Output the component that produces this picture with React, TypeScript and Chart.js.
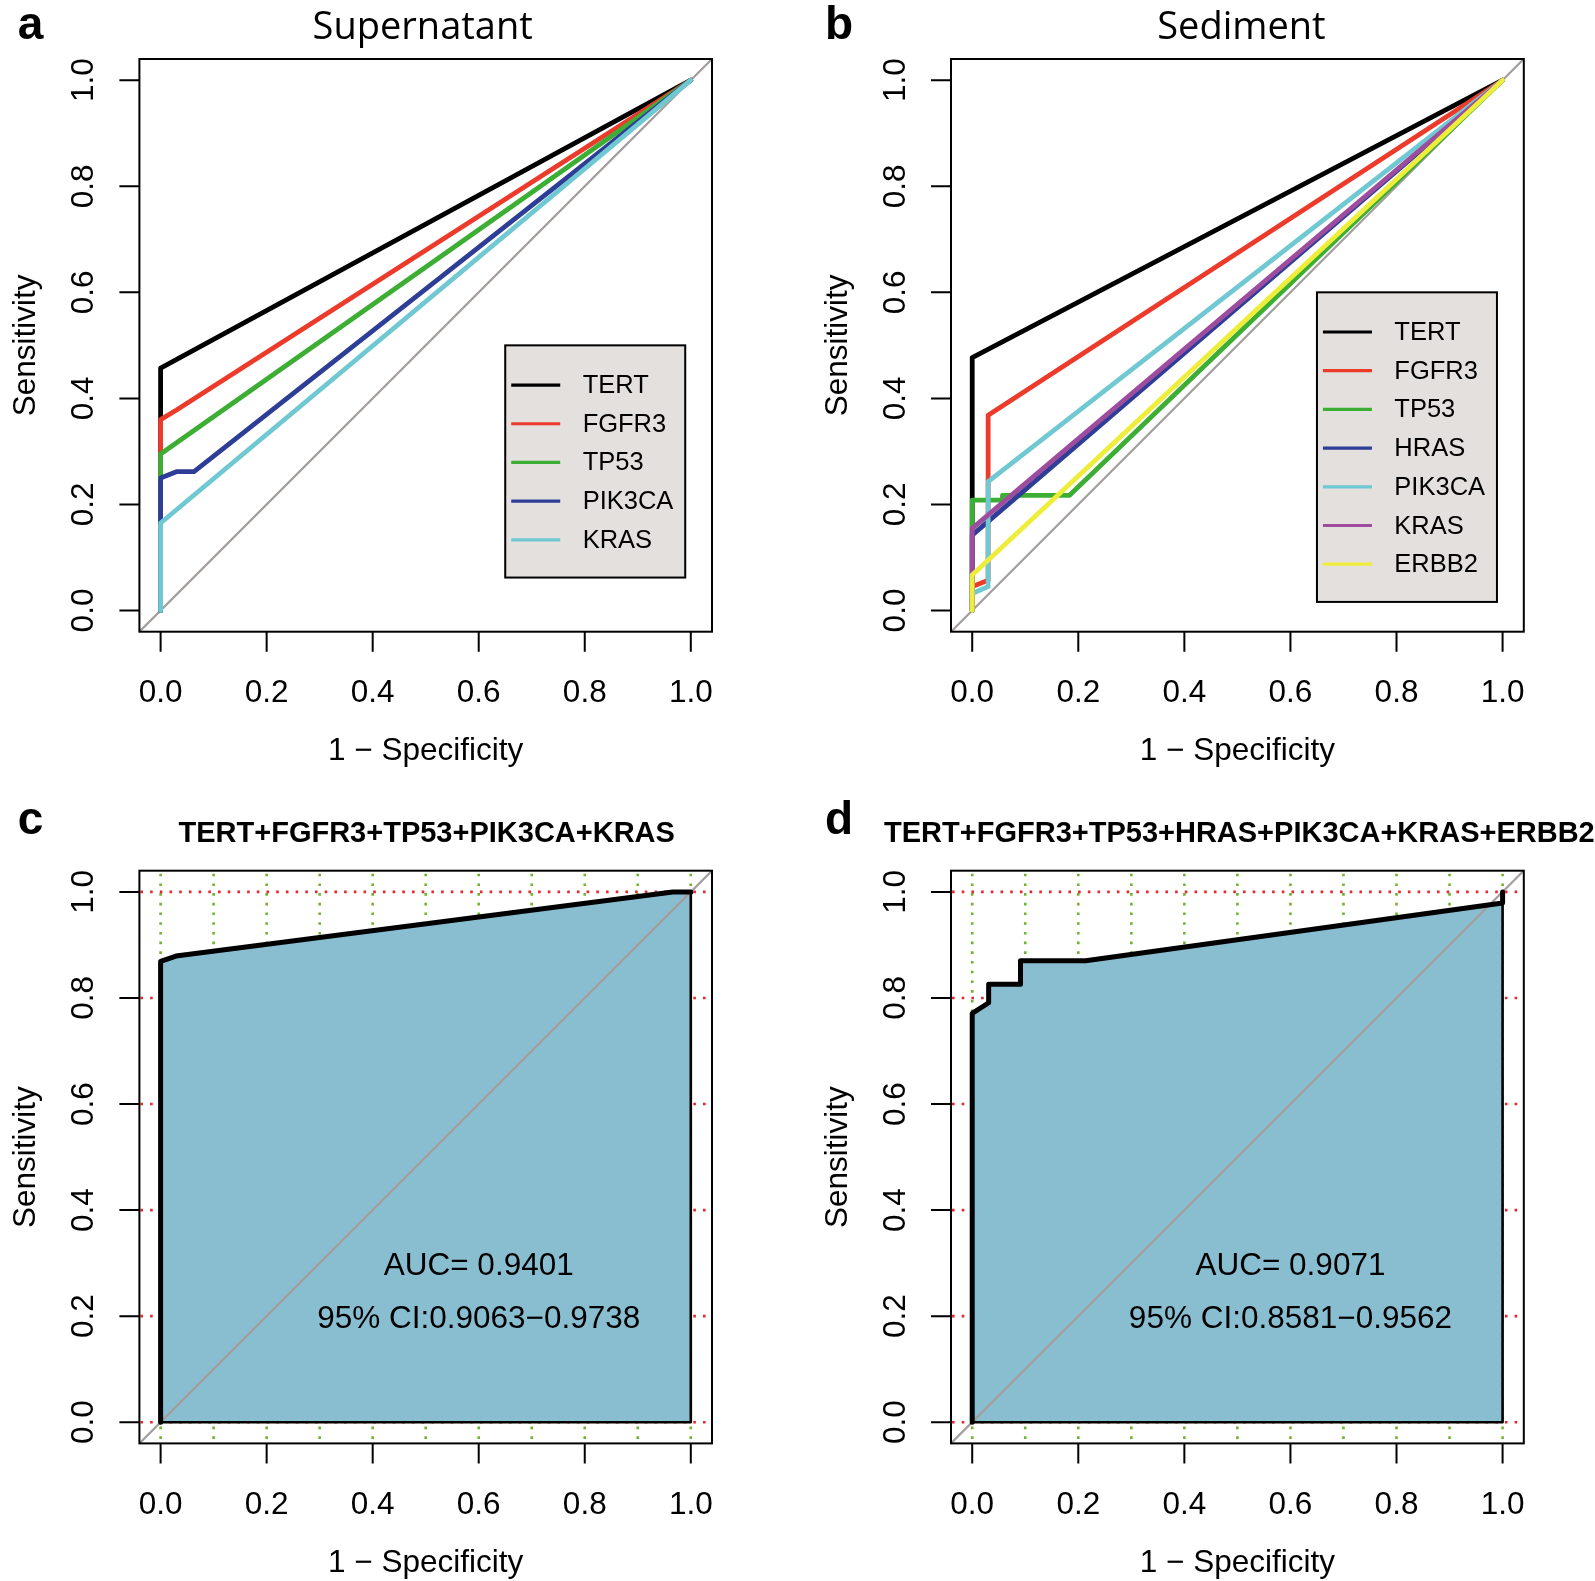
import { useEffect, useRef } from "react";
import { Chart, registerables } from "chart.js";

Chart.register(...registerables);

// ---------- shared axis values ----------
const AXIS_MIN = -0.04;
const AXIS_MAX = 1.04;
const tickValues = [0, 0.2, 0.4, 0.6, 0.8, 1.0];
const tickLabels = ["0.0", "0.2", "0.4", "0.6", "0.8", "1.0"];
const gridXValues = [0, 0.1, 0.2, 0.3, 0.4, 0.5, 0.6, 0.7, 0.8, 0.9, 1.0];
const gridYValues = [0, 0.2, 0.4, 0.6, 0.8, 1.0];
const identityLine = [AXIS_MIN, AXIS_MAX];
const xAxisTitle = "1 \u2212 Specificity";
const yAxisTitle = "Sensitivity";

// ---------- panel a : Supernatant ----------
const supTitle = "Supernatant";
const supGenes = ["TERT", "FGFR3", "TP53", "PIK3CA", "KRAS"];
const supColors = ["#000000", "#EC3A2B", "#3DAE34", "#2E3D96", "#70C8D2"];
const supTertFpr = [0, 0, 1];
const supTertTpr = [0, 0.457, 1];
const supFgfr3Fpr = [0, 0, 0.03, 1];
const supFgfr3Tpr = [0, 0.36, 0.378, 1];
const supTp53Fpr = [0, 0, 1];
const supTp53Tpr = [0, 0.295, 1];
const supPik3caFpr = [0, 0, 0.031, 0.063, 1];
const supPik3caTpr = [0, 0.25, 0.262, 0.262, 1];
const supKrasFpr = [0, 0, 1];
const supKrasTpr = [0, 0.165, 1];

// ---------- panel b : Sediment ----------
const sedTitle = "Sediment";
const sedGenes = ["TERT", "FGFR3", "TP53", "HRAS", "PIK3CA", "KRAS", "ERBB2"];
const sedColors = ["#000000", "#EC3A2B", "#3DAE34", "#2E3D96", "#70C8D2", "#9D4C9E", "#EEEE3A"];
const sedTertFpr = [0, 0, 1];
const sedTertTpr = [0, 0.477, 1];
const sedFgfr3Fpr = [0, 0, 0.03, 0.03, 1];
const sedFgfr3Tpr = [0, 0.045, 0.057, 0.368, 1];
const sedTp53Fpr = [0, 0, 0.057, 0.057, 0.183, 1];
const sedTp53Tpr = [0, 0.208, 0.208, 0.217, 0.217, 1];
const sedHrasFpr = [0, 0, 1];
const sedHrasTpr = [0, 0.142, 1];
const sedPik3caFpr = [0, 0, 0.03, 0.03, 1];
const sedPik3caTpr = [0, 0.032, 0.045, 0.243, 1];
const sedKrasFpr = [0, 0, 1];
const sedKrasTpr = [0, 0.155, 1];
const sedErbb2Fpr = [0, 0, 1];
const sedErbb2Tpr = [0, 0.067, 1];

// ---------- panel c : combined supernatant ----------
const combSupTitle = "TERT+FGFR3+TP53+PIK3CA+KRAS";
const combSupFpr = [0, 0, 0.029, 0.966, 1];
const combSupTpr = [0, 0.869, 0.879, 1, 1];
const combSupAuc = ["AUC= 0.9401", "95% CI:0.9063\u22120.9738"];

// ---------- panel d : combined sediment ----------
const combSedTitle = "TERT+FGFR3+TP53+HRAS+PIK3CA+KRAS+ERBB2";
const combSedFpr = [0, 0, 0.031, 0.031, 0.091, 0.091, 0.214, 1, 1];
const combSedTpr = [0, 0.771, 0.791, 0.826, 0.826, 0.87, 0.87, 0.979, 1];
const combSedAuc = ["AUC= 0.9071", "95% CI:0.8581\u22120.9562"];

// text positions (data coordinates)
const aucTextX = 0.6;
const aucTextY = [0.3, 0.2];
const supLegendAt = [0.65, 0.5];
const sedLegendAt = [0.65, 0.6];

// ---------- styling ----------
const SANS = '"Liberation Sans", Arial, sans-serif';
const FILL_COLOR = "#89BED1";
const DIAG_COLOR = "#A39D9B";
const GRID_X_COLOR = "#6DB52E";
const GRID_Y_COLOR = "#E8262E";
const LEGEND_BG = "#E3E0DE";

type Series = { label: string; color: string; fpr: number[]; tpr: number[] };

type PanelSpec = {
  key: string;
  letter: string;
  letterPos: [number, number];
  title: string;
  titleFont: string;
  titleBaselineAbove: number;
  titleShift: number;
  left: number;
  top: number;
  width: number;
  height: number;
  padding: { left: number; right: number; top: number; bottom: number };
  series?: Series[];
  legendAt?: number[];
  combined?: { fpr: number[]; tpr: number[]; auc: string[] };
};

const toPoints = (fpr: number[], tpr: number[]) => fpr.map((x, i) => ({ x, y: tpr[i] }));

const supSeries: Series[] = [
  { label: supGenes[0], color: supColors[0], fpr: supTertFpr, tpr: supTertTpr },
  { label: supGenes[1], color: supColors[1], fpr: supFgfr3Fpr, tpr: supFgfr3Tpr },
  { label: supGenes[2], color: supColors[2], fpr: supTp53Fpr, tpr: supTp53Tpr },
  { label: supGenes[3], color: supColors[3], fpr: supPik3caFpr, tpr: supPik3caTpr },
  { label: supGenes[4], color: supColors[4], fpr: supKrasFpr, tpr: supKrasTpr },
];

const sedSeries: Series[] = [
  { label: sedGenes[0], color: sedColors[0], fpr: sedTertFpr, tpr: sedTertTpr },
  { label: sedGenes[1], color: sedColors[1], fpr: sedFgfr3Fpr, tpr: sedFgfr3Tpr },
  { label: sedGenes[2], color: sedColors[2], fpr: sedTp53Fpr, tpr: sedTp53Tpr },
  { label: sedGenes[3], color: sedColors[3], fpr: sedHrasFpr, tpr: sedHrasTpr },
  { label: sedGenes[4], color: sedColors[4], fpr: sedPik3caFpr, tpr: sedPik3caTpr },
  { label: sedGenes[5], color: sedColors[5], fpr: sedKrasFpr, tpr: sedKrasTpr },
  { label: sedGenes[6], color: sedColors[6], fpr: sedErbb2Fpr, tpr: sedErbb2Tpr },
];

const TOP_PAD = { top: 59, bottom: 158.3 };
const BOT_PAD = { top: 80.7, bottom: 137.6 };
const LEFT_PAD = { left: 139.4, right: 85 };
const RIGHT_PAD = { left: 154, right: 71.2 };

const panels: PanelSpec[] = [
  {
    key: "a", letter: "a", letterPos: [30.5, 38.5], title: supTitle,
    titleFont: `38px "Open Sans", ${SANS}`, titleBaselineAbove: 20.3, titleShift: -3,
    left: 0, top: 0, width: 797, height: 790,
    padding: { ...LEFT_PAD, ...TOP_PAD }, series: supSeries, legendAt: supLegendAt,
  },
  {
    key: "b", letter: "b", letterPos: [42, 38.5], title: sedTitle,
    titleFont: `38px "Open Sans", ${SANS}`, titleBaselineAbove: 20.3, titleShift: 4,
    left: 797, top: 0, width: 798, height: 790,
    padding: { ...RIGHT_PAD, ...TOP_PAD }, series: sedSeries, legendAt: sedLegendAt,
  },
  {
    key: "c", letter: "c", letterPos: [30.5, 44], title: combSupTitle,
    titleFont: `bold 29px ${SANS}`, titleBaselineAbove: 29, titleShift: 1,
    left: 0, top: 790, width: 797, height: 791,
    padding: { ...LEFT_PAD, ...BOT_PAD },
    combined: { fpr: combSupFpr, tpr: combSupTpr, auc: combSupAuc },
  },
  {
    key: "d", letter: "d", letterPos: [42, 44], title: combSedTitle,
    titleFont: `bold 29px ${SANS}`, titleBaselineAbove: 29, titleShift: 2,
    left: 797, top: 790, width: 798, height: 791,
    padding: { ...RIGHT_PAD, ...BOT_PAD },
    combined: { fpr: combSedFpr, tpr: combSedTpr, auc: combSedAuc },
  },
];

function makeDecor(spec: PanelSpec) {
  return {
    id: "rocDecor_" + spec.key,
    beforeDatasetsDraw(chart: any) {
      if (!spec.combined) return;
      const { ctx, chartArea: a, scales } = chart;
      const xs = scales.x, ys = scales.y;
      ctx.save();
      ctx.lineWidth = 2.6;
      ctx.lineCap = "butt";
      ctx.setLineDash([2.6, 7.1]);
      ctx.strokeStyle = GRID_X_COLOR;
      for (const v of gridXValues) {
        const px = xs.getPixelForValue(v);
        ctx.beginPath();
        ctx.moveTo(px, a.top + 3);
        ctx.lineTo(px, a.bottom);
        ctx.stroke();
      }
      ctx.strokeStyle = GRID_Y_COLOR;
      for (const v of gridYValues) {
        const py = ys.getPixelForValue(v);
        ctx.beginPath();
        ctx.moveTo(a.left + 1, py);
        ctx.lineTo(a.right, py);
        ctx.stroke();
      }
      ctx.restore();
    },
    afterDraw(chart: any) {
      const { ctx, chartArea: a, scales } = chart;
      const xs = scales.x, ys = scales.y;
      ctx.save();
      ctx.fillStyle = "#000";
      ctx.strokeStyle = "#000";
      ctx.lineWidth = 2;
      ctx.setLineDash([]);
      // frame
      ctx.strokeRect(a.left, a.top, a.right - a.left, a.bottom - a.top);
      // ticks
      ctx.beginPath();
      for (const v of tickValues) {
        const px = xs.getPixelForValue(v);
        ctx.moveTo(px, a.bottom);
        ctx.lineTo(px, a.bottom + 20);
        const py = ys.getPixelForValue(v);
        ctx.moveTo(a.left, py);
        ctx.lineTo(a.left - 20, py);
      }
      ctx.stroke();
      // tick labels
      ctx.font = `31.5px ${SANS}`;
      ctx.textAlign = "center";
      ctx.textBaseline = "middle";
      tickValues.forEach((v, i) => {
        ctx.fillText(tickLabels[i], xs.getPixelForValue(v), a.bottom + 62);
        ctx.save();
        ctx.translate(a.left - 55, ys.getPixelForValue(v));
        ctx.rotate(-Math.PI / 2);
        ctx.fillText(tickLabels[i], 0, 0);
        ctx.restore();
      });
      // axis titles
      const cx = (xs.getPixelForValue(0) + xs.getPixelForValue(1)) / 2;
      const cy = (ys.getPixelForValue(0) + ys.getPixelForValue(1)) / 2;
      ctx.fillText(xAxisTitle, cx, a.bottom + 120);
      ctx.save();
      ctx.translate(a.left - 113, cy);
      ctx.rotate(-Math.PI / 2);
      ctx.fillText(yAxisTitle, 0, 0);
      ctx.restore();
      // title
      ctx.textBaseline = "alphabetic";
      ctx.font = spec.titleFont;
      ctx.fillText(spec.title, (a.left + a.right) / 2 + spec.titleShift, a.top - spec.titleBaselineAbove);
      // panel letter
      ctx.font = `bold 46px ${SANS}`;
      ctx.fillText(spec.letter, spec.letterPos[0], spec.letterPos[1]);
      // legend
      if (spec.series && spec.legendAt) {
        const lx = xs.getPixelForValue(spec.legendAt[0]);
        const ly = ys.getPixelForValue(spec.legendAt[1]);
        const rowH = 38.7;
        const w = 180;
        const h = rowH * (spec.series.length + 1);
        ctx.fillStyle = LEGEND_BG;
        ctx.fillRect(lx, ly, w, h);
        ctx.lineWidth = 2;
        ctx.strokeStyle = "#000";
        ctx.strokeRect(lx, ly, w, h);
        ctx.font = `25.5px ${SANS}`;
        ctx.textAlign = "left";
        ctx.textBaseline = "middle";
        spec.series.forEach((s, i) => {
          const yy = ly + 39.7 + i * rowH;
          ctx.strokeStyle = s.color;
          ctx.lineWidth = 3.2;
          ctx.beginPath();
          ctx.moveTo(lx + 6, yy);
          ctx.lineTo(lx + 55, yy);
          ctx.stroke();
          ctx.fillStyle = "#000";
          ctx.fillText(s.label, lx + 77.4, yy + 1);
        });
      }
      // AUC text
      if (spec.combined) {
        ctx.font = `31.5px ${SANS}`;
        ctx.textAlign = "center";
        ctx.textBaseline = "middle";
        ctx.fillStyle = "#000";
        spec.combined.auc.forEach((t, i) => {
          ctx.fillText(t, xs.getPixelForValue(aucTextX), ys.getPixelForValue(aucTextY[i]) + 3);
        });
      }
      ctx.restore();
    },
  };
}

function buildDatasets(spec: PanelSpec) {
  const common = {
    showLine: true,
    pointRadius: 0,
    pointHoverRadius: 0,
    tension: 0,
    borderJoinStyle: "round" as const,
    borderCapStyle: "round" as const,
  };
  const identity = {
    ...common,
    label: "identity",
    data: identityLine.map((v) => ({ x: v, y: v })),
    borderColor: DIAG_COLOR,
    borderWidth: 2.2,
    fill: false,
    order: 50,
  };
  if (spec.series) {
    const n = spec.series.length;
    return [
      identity,
      ...spec.series.map((s, i) => ({
        ...common,
        label: s.label,
        data: toPoints(s.fpr, s.tpr),
        borderColor: s.color,
        borderWidth: 4.8,
        fill: false,
        order: n - i,
      })),
    ];
  }
  const c = spec.combined!;
  const last = c.fpr.length - 1;
  const polyFpr = [...c.fpr, c.fpr[last], c.fpr[0]];
  const polyTpr = [...c.tpr, 0, 0];
  return [
    {
      ...common,
      label: "auc polygon",
      data: toPoints(polyFpr, polyTpr),
      borderColor: "#000",
      borderWidth: 2.6,
      backgroundColor: FILL_COLOR,
      fill: "shape",
      order: 100,
    },
    { ...identity, order: 60 },
    {
      ...common,
      label: "ROC",
      data: toPoints(c.fpr, c.tpr),
      borderColor: "#000",
      borderWidth: 5,
      fill: false,
      order: 1,
    },
  ];
}

function Panel({ spec }: { spec: PanelSpec }) {
  const ref = useRef<HTMLCanvasElement>(null);
  useEffect(() => {
    const canvas = ref.current;
    if (!canvas) return;
    const chart = new Chart(canvas, {
      type: "scatter",
      data: { datasets: buildDatasets(spec) as any },
      options: {
        responsive: false,
        animation: false,
        devicePixelRatio: 1,
        events: [],
        layout: { padding: spec.padding },
        scales: {
          x: { type: "linear", min: AXIS_MIN, max: AXIS_MAX, display: false },
          y: { type: "linear", min: AXIS_MIN, max: AXIS_MAX, display: false },
        },
        plugins: {
          legend: { display: false },
          tooltip: { enabled: false },
          title: { display: false },
        },
      },
      plugins: [makeDecor(spec)],
    });
    return () => chart.destroy();
  }, [spec]);
  return (
    <canvas
      ref={ref}
      width={spec.width}
      height={spec.height}
      style={{
        position: "absolute",
        left: spec.left,
        top: spec.top,
        width: spec.width,
        height: spec.height,
        display: "block",
      }}
    />
  );
}

export default function App() {
  return (
    <div
      style={{
        position: "absolute",
        left: 0,
        top: 0,
        width: 1595,
        height: 1581,
        background: "#ffffff",
        overflow: "hidden",
      }}
    >
      {panels.map((p) => (
        <Panel key={p.key} spec={p} />
      ))}
    </div>
  );
}
